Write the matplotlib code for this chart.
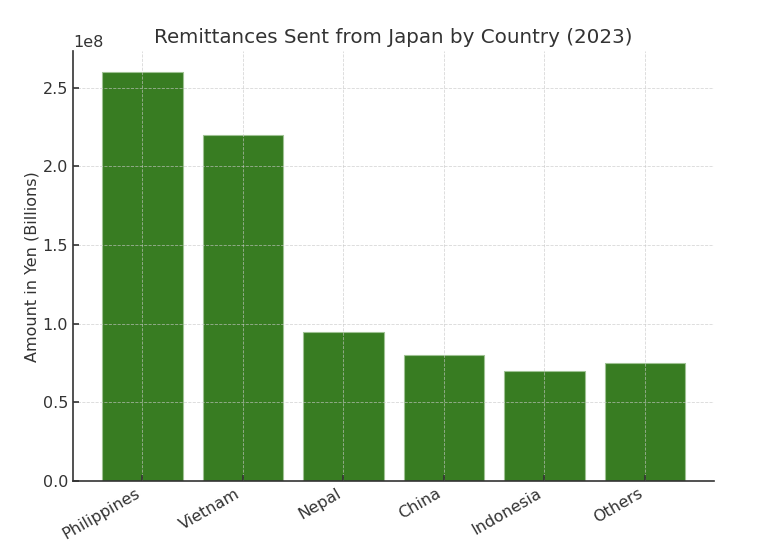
import matplotlib

matplotlib.use("Agg")
import matplotlib.pyplot as plt

countries = ["Philippines", "Vietnam", "Nepal", "China", "Indonesia", "Others"]
amounts = [2.60e8, 2.20e8, 0.95e8, 0.80e8, 0.70e8, 0.75e8]

TEXT = "#333333"
plt.rcParams.update({
    "font.family": "DejaVu Sans",
    "text.color": TEXT,
    "axes.labelcolor": TEXT,
    "xtick.color": TEXT,
    "ytick.color": TEXT,
    "xtick.direction": "in",
    "ytick.direction": "in",
})

fig = plt.figure(figsize=(7.68, 5.53), dpi=100)
ax = fig.add_axes([0.095, 0.13, 0.835, 0.777])

ax.bar(countries, amounts, width=0.8, color="#387c22", edgecolor="#9fc293", linewidth=0.8, zorder=2)
ax.grid(True, color="#c8c8c8", linestyle="--", linewidth=0.6, alpha=0.7, zorder=3)
ax.set_axisbelow(False)

ax.set_title("Remittances Sent from Japan by Country (2023)", fontsize=14.3, color=TEXT)
ax.set_ylabel("Amount in Yen (Billions)", fontsize=11.5, labelpad=2)
ax.tick_params(axis="both", labelsize=11.5, width=1.2, length=4)
plt.setp(ax.get_xticklabels(), rotation=30, ha="right")
ax.yaxis.get_offset_text().set_fontsize(11.5)

for side in ("top", "right"):
    ax.spines[side].set_visible(False)
for side in ("left", "bottom"):
    ax.spines[side].set_color(TEXT)
    ax.spines[side].set_linewidth(1.2)

fig.savefig("out.png", dpi=100)
